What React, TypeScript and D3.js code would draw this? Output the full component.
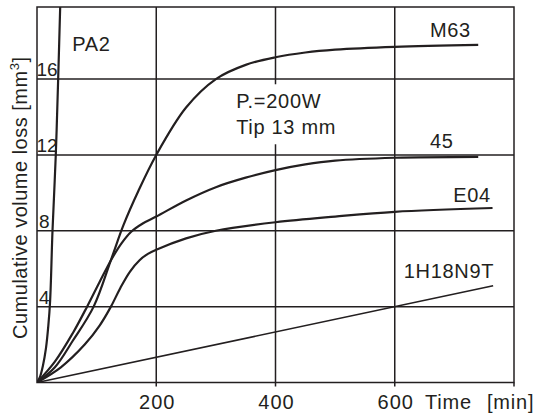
import React from 'react';
import * as d3 from 'd3';

// chart data (time in min, cumulative volume loss in mm^3)
const xTicks = [200, 400, 600];
const yTicks = [4, 8, 12, 16];

const pa2: [number, number][] = [
  [0, 0], [5, 0.3], [10, 0.9], [15, 1.8], [19, 3], [22, 4.3], [26, 8], [31.5, 12], [35.5, 16], [39.5, 20.5]
];
const m63: [number, number][] = [
  [0, 0], [30, 0.8], [60, 2.2], [95, 4], [125, 6.55], [145, 8.3], [170, 10.1], [200, 12], [250, 14.5],
  [300, 16], [350, 16.75], [400, 17.15], [450, 17.4], [500, 17.55], [600, 17.7], [740, 17.8]
];
const steel45: [number, number][] = [
  [0, 0], [30, 1.1], [60, 2.6], [84, 4], [105, 5.3], [125, 6.5], [142, 7.35], [158, 7.95], [178, 8.4],
  [200, 8.75], [250, 9.6], [300, 10.3], [350, 10.8], [400, 11.2], [450, 11.5], [500, 11.7], [600, 11.85], [740, 11.9]
];
const e04: [number, number][] = [
  [0, 0], [40, 0.8], [80, 2.0], [105, 3.0], [124, 4.0], [140, 5.0], [156, 5.85], [172, 6.45], [186, 6.78],
  [200, 7.0], [250, 7.6], [300, 8.0], [400, 8.45], [500, 8.75], [600, 9.0], [764, 9.2]
];
const h18n9t: [number, number][] = [[0, 0], [765, 5.1]];

const series = [pa2, m63, steel45, e04, h18n9t];

// annotations in data units
const labels = [
  { text: 'PA2', x: 59, y: 17.5 },
  { text: 'M63', x: 659, y: 18.23 },
  { text: '45', x: 659, y: 12.35 },
  { text: 'E04', x: 698, y: 9.5 },
  { text: '1H18N9T', x: 615, y: 5.49 },
];
const note = { lines: ['P.=200W', 'Tip 13 mm'], x: 334, y: 14.46 };

const W = 534;
const H = 418;
const margin = { left: 37, right: 20, top: 7, bottom: 35.5 };
const ink = '#231f20';
const font = '"Liberation Sans", Arial, sans-serif';

export default function App() {
  const x = d3.scaleLinear().domain([0, 800]).range([margin.left, W - margin.right]);
  const y = d3.scaleLinear().domain([0, 19.8]).range([H - margin.bottom, margin.top]);

  const line = d3.line<[number, number]>()
    .x(d => x(d[0]))
    .y(d => y(d[1]))
    .curve(d3.curveCatmullRom.alpha(0.5));

  const x0 = x(0), x1 = x(800), y0 = y(0), y1 = y(19.8);
  const noteX = x(note.x), noteY = y(note.y);

  return (
    <svg width={W} height={H} style={{ position: 'absolute', left: 0, top: 0, background: '#fff' }}
      fontFamily={font}>
      <defs>
        <clipPath id="plot">
          <rect x={x0} y={y1} width={x1 - x0} height={y0 - y1} />
        </clipPath>
      </defs>

      {/* grid */}
      {xTicks.map(t => (
        <line key={'gx' + t} x1={x(t)} x2={x(t)} y1={y1} y2={y0 + 4} stroke={ink} strokeWidth={1.5} />
      ))}
      <line x1={x1} x2={x1} y1={y0} y2={y0 + 4} stroke={ink} strokeWidth={1.5} />
      {yTicks.map(t => (
        <line key={'gy' + t} x1={x0} x2={x1} y1={y(t)} y2={y(t)} stroke={ink} strokeWidth={1.5} />
      ))}
      <rect x={x0} y={y1} width={x1 - x0} height={y0 - y1} fill="none" stroke={ink} strokeWidth={1.5} />

      {/* white box behind the test conditions */}
      <rect x={noteX - 4} y={noteY - 24} width={96} height={60} fill="#fff" />
      {note.lines.map((t, i) => (
        <text key={t} x={noteX} y={noteY + i * 26} fontSize={20} letterSpacing={0.7} fill={ink}>{t}</text>
      ))}

      {/* curves */}
      <g clipPath="url(#plot)">
        {series.map((s, i) => (
          <path key={i} d={line(s) || ''} fill="none" stroke={ink} strokeWidth={i === 4 ? 1.6 : 2.2} />
        ))}
      </g>

      {/* curve labels */}
      {labels.map(l => (
        <text key={l.text} x={x(l.x)} y={y(l.y)} fontSize={20} letterSpacing={0.7} fill={ink}>{l.text}</text>
      ))}

      {/* y tick labels */}
      {yTicks.map(t => (
        <text key={'ty' + t} x={x0 + (t < 10 ? 2 : -0.5)} y={y(t) - 3} fontSize={19} fill={ink}>{t}</text>
      ))}

      {/* x tick labels */}
      {xTicks.map(t => (
        <text key={'tx' + t} x={x(t) + 1} y={y0 + 26} fontSize={20} letterSpacing={1} textAnchor="middle" fill={ink}>{t}</text>
      ))}
      <text x={425} y={y0 + 26} fontSize={20} letterSpacing={0.8} fill={ink}>Time</text>
      <text x={487} y={y0 + 26} fontSize={20} letterSpacing={0.8} fill={ink}>[min]</text>

      {/* y axis title */}
      <text transform={`translate(26.5, ${(y0 + y1) / 2 + 3}) rotate(-90)`} textAnchor="middle"
        fontSize={20} letterSpacing={0.5} fill={ink}>
        Cumulative volume loss [mm<tspan dy={-8} fontSize={13}>3</tspan><tspan dy={8}>]</tspan>
      </text>
    </svg>
  );
}
